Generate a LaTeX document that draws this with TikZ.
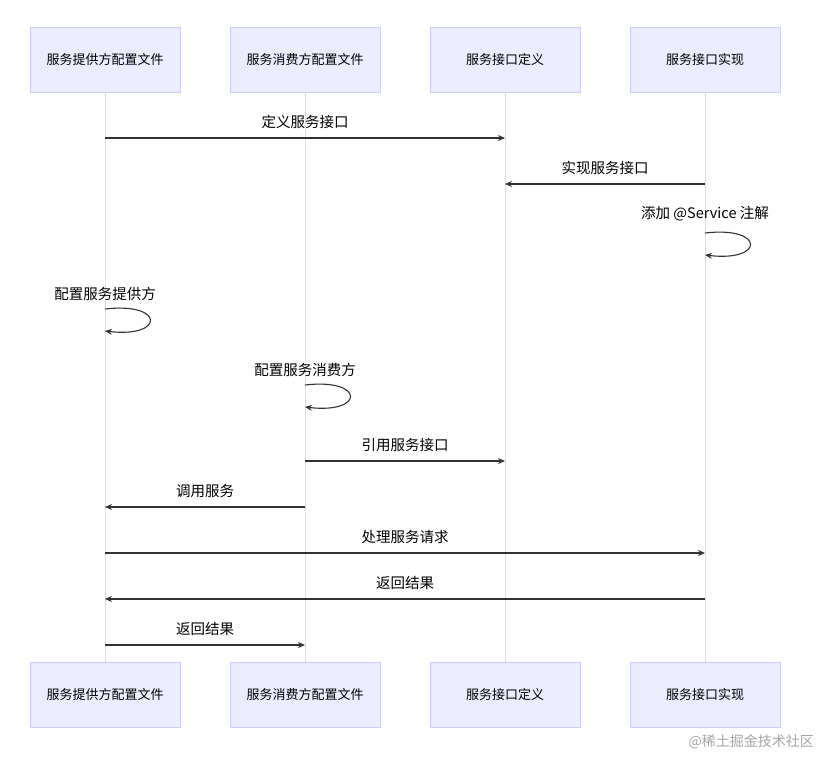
\documentclass[tikz,border=0pt]{standalone}
\usepackage{fontspec}
\setmainfont{Noto Sans CJK SC}
\usetikzlibrary{arrows.meta}
\definecolor{boxfill}{HTML}{ECECFF}
\definecolor{boxline}{HTML}{CCCCFF}
\definecolor{life}{HTML}{DDDDDD}
\definecolor{msg}{HTML}{333333}
\tikzset{
  actor/.style={draw=boxline,fill=boxfill,line width=0.8pt,minimum width=150pt,minimum height=65pt,inner sep=0pt,font=\fontsize{13}{15}\selectfont,text=black},
  lifeline/.style={draw=life,line width=0.8pt},
  msgline/.style={draw=msg,line width=1.1pt,-{Stealth[length=7pt,width=6pt]}},
  lbl/.style={font=\fontsize{14.5}{17}\selectfont,text=black,inner sep=0pt}
}
\begin{document}
\begin{tikzpicture}[x=1pt,y=-1pt]
\useasboundingbox (0,0) rectangle (819,758);
\fill[white] (0,0) rectangle (819,758);
\foreach \n/\x in {a/105,b/305,c/505,d/705}{
  \coordinate (\n top) at (\x,92);
  \coordinate (\n bot) at (\x,662);
  \draw[lifeline] (\n top) -- (\n bot);
}
\node[actor] (A1) at (105,59.5) {服务提供方配置文件};
\node[actor] (B1) at (305,59.5) {服务消费方配置文件};
\node[actor] (C1) at (505,59.5) {服务接口定义};
\node[actor] (D1) at (705,59.5) {服务接口实现};
\node[actor] (A2) at (105,694.5) {服务提供方配置文件};
\node[actor] (B2) at (305,694.5) {服务消费方配置文件};
\node[actor] (C2) at (505,694.5) {服务接口定义};
\node[actor] (D2) at (705,694.5) {服务接口实现};
% message points
\coordinate (m1a) at (105,138); \coordinate (m1c) at (505,138);
\coordinate (m2d) at (705,184); \coordinate (m2c) at (505,184);
\coordinate (m3s) at (705,233); \coordinate (m3e) at (705,255);
\coordinate (m4s) at (105,309); \coordinate (m4e) at (105,331);
\coordinate (m5s) at (305,385); \coordinate (m5e) at (305,407);
\coordinate (m6b) at (305,461); \coordinate (m6c) at (505,461);
\coordinate (m7b) at (305,507); \coordinate (m7a) at (105,507);
\coordinate (m8a) at (105,553); \coordinate (m8d) at (705,553);
\coordinate (m9d) at (705,599); \coordinate (m9a) at (105,599);
\coordinate (m10a) at (105,645); \coordinate (m10b) at (305,645);
\draw[msgline] (m1a) -- (m1c);
\draw[msgline] (m2d) -- (m2c);
\draw[msgline] (m3s) .. controls (765,226) and (765,262) .. (m3e);
\draw[msgline] (m4s) .. controls (165,302) and (165,338) .. (m4e);
\draw[msgline] (m5s) .. controls (365,378) and (365,414) .. (m5e);
\draw[msgline] (m6b) -- (m6c);
\draw[msgline] (m7b) -- (m7a);
\draw[msgline] (m8a) -- (m8d);
\draw[msgline] (m9d) -- (m9a);
\draw[msgline] (m10a) -- (m10b);
\node[lbl] (l1) at (305,122) {定义服务接口};
\node[lbl] (l2) at (605,168) {实现服务接口};
\node[lbl] (l3) at (705,214) {添加 @Service 注解};
\node[lbl] (l4) at (105,294) {配置服务提供方};
\node[lbl] (l5) at (305,370) {配置服务消费方};
\node[lbl] (l6) at (405,445) {引用服务接口};
\node[lbl] (l7) at (205,491) {调用服务};
\node[lbl] (l8) at (405,537) {处理服务请求};
\node[lbl] (l9) at (405,583) {返回结果};
\node[lbl] (l10) at (205,629) {返回结果};
\node[font=\fontsize{14}{16}\selectfont,text=black!35,anchor=east,inner sep=0pt] (wm) at (814,742) {@稀土掘金技术社区};
\end{tikzpicture}
\end{document}
